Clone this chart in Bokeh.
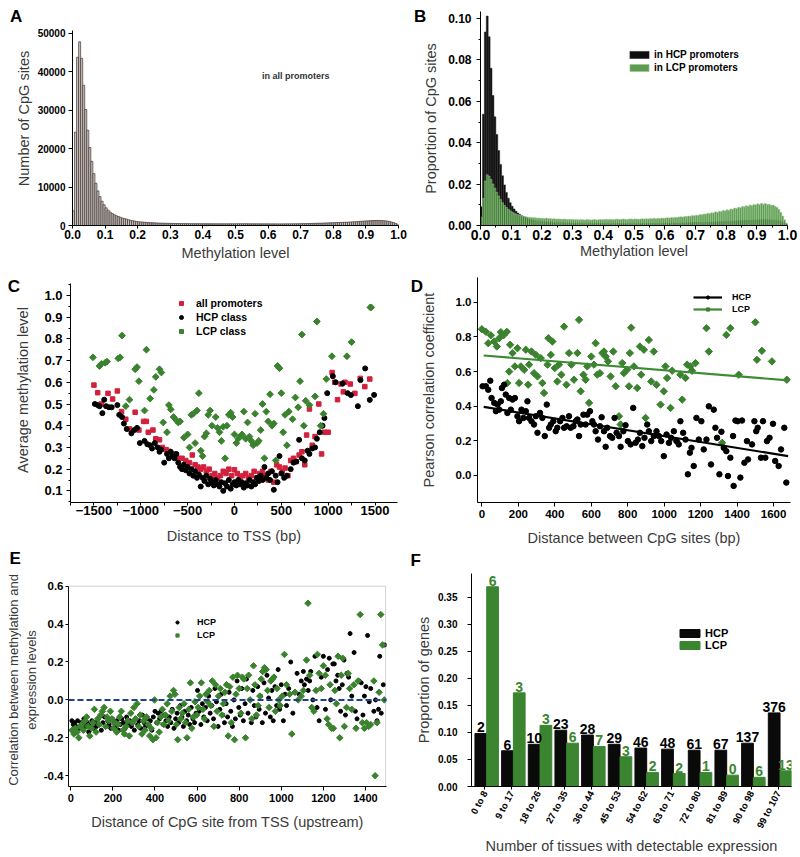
import math
from bokeh.plotting import figure
from bokeh.layouts import column, row
from bokeh.models import (ColumnDataSource, Legend, LegendItem, Label, LabelSet, Span, Title, BoxAnnotation,
                          FixedTicker, PrintfTickFormatter, Range1d, FactorRange)
from bokeh.transform import dodge
from bokeh.core.properties import value
from bokeh.embed import file_html
from bokeh.resources import INLINE

FONT = "Liberation Sans"
TITLE_COLOR = "#3a3a3a"
GREEN = "#3b822f"
RED = "#d2203c"

# ---------------- DATA ----------------
# Panel A: histogram of methylation level, all promoters (bin width 0.00625)
a_bin_width = 0.00625
a_counts = [
    3800, 24300, 43800, 47800, 43500, 36500, 30200, 24800, 20300, 16700, 13500, 11000, 9000, 7500, 6300, 5400,
    4600, 4000, 3500, 3100, 2800, 2550, 2350, 2150, 1950, 1800, 1650, 1500, 1350, 1250, 1150, 1050,
    980, 930, 880, 840, 800, 760, 730, 700, 680, 650, 630, 610, 590, 580, 560, 550,
    540, 530, 520, 515, 505, 500, 495, 490, 485, 480, 480, 475, 470, 470, 465, 460,
    460, 455, 455, 450, 450, 445, 450, 445, 440, 445, 440, 440, 445, 450, 445, 450,
    455, 460, 455, 460, 465, 460, 455, 450, 445, 440, 440, 435, 430, 430, 425, 430,
    425, 420, 425, 420, 415, 420, 420, 425, 430, 430, 435, 440, 445, 450, 460, 470,
    480, 490, 500, 510, 520, 535, 550, 565, 580, 600, 620, 640, 660, 680, 700, 720,
    740, 760, 780, 800, 820, 840, 860, 890, 920, 950, 980, 1010, 1050, 1090, 1130, 1170,
    1200, 1230, 1260, 1280, 1300, 1310, 1300, 1290, 1260, 1220, 1150, 1050, 920, 760, 560, 350]
a_xticks = [0.0, 0.1, 0.2, 0.3, 0.4, 0.5, 0.6, 0.7, 0.8, 0.9, 1.0]
a_yticks = [0, 10000, 20000, 30000, 40000, 50000]

# Panel B: proportion of CpG sites in HCP / LCP promoters
b_bin_width = 0.00625
b_hcp = [
    0.0090, 0.0538, 0.0935, 0.1012, 0.0912, 0.0760, 0.0628, 0.0525, 0.0440, 0.0362, 0.0295, 0.0240, 0.0196, 0.0160, 0.0132, 0.0110,
    0.0093, 0.0080, 0.0069, 0.0060, 0.0053, 0.0047, 0.0042, 0.0038, 0.0034, 0.0031, 0.0028, 0.0026, 0.0024, 0.0022, 0.0021, 0.0020,
    0.0019, 0.0018, 0.0017, 0.0017, 0.0016, 0.0015, 0.0015, 0.0014, 0.0014, 0.0013, 0.0013, 0.0013, 0.0012, 0.0012, 0.0012, 0.0011,
    0.0011, 0.0011, 0.0011, 0.0010, 0.0011, 0.0010, 0.0010, 0.0010, 0.0011, 0.0010, 0.0010, 0.0010, 0.0010, 0.0009, 0.0010, 0.0010,
    0.0010, 0.0009, 0.0010, 0.0010, 0.0009, 0.0010, 0.0009, 0.0010, 0.0009, 0.0009, 0.0010, 0.0009, 0.0010, 0.0010, 0.0009, 0.0010,
    0.0010, 0.0010, 0.0009, 0.0010, 0.0010, 0.0010, 0.0010, 0.0011, 0.0010, 0.0010, 0.0011, 0.0010, 0.0011, 0.0011, 0.0010, 0.0011,
    0.0011, 0.0011, 0.0011, 0.0012, 0.0011, 0.0012, 0.0012, 0.0012, 0.0012, 0.0013, 0.0012, 0.0013, 0.0013, 0.0013, 0.0014, 0.0014,
    0.0014, 0.0014, 0.0015, 0.0015, 0.0015, 0.0016, 0.0016, 0.0016, 0.0017, 0.0017, 0.0017, 0.0018, 0.0018, 0.0019, 0.0019, 0.0020,
    0.0020, 0.0021, 0.0021, 0.0022, 0.0022, 0.0023, 0.0023, 0.0024, 0.0024, 0.0025, 0.0025, 0.0026, 0.0026, 0.0026, 0.0027, 0.0027,
    0.0027, 0.0028, 0.0028, 0.0028, 0.0029, 0.0028, 0.0028, 0.0028, 0.0027, 0.0026, 0.0025, 0.0023, 0.0020, 0.0016, 0.0011, 0.0006]
b_lcp = [
    0.0040, 0.0130, 0.0215, 0.0245, 0.0238, 0.0222, 0.0200, 0.0180, 0.0160, 0.0142, 0.0125, 0.0110, 0.0097, 0.0087, 0.0078, 0.0071,
    0.0065, 0.0060, 0.0056, 0.0052, 0.0049, 0.0047, 0.0045, 0.0043, 0.0041, 0.0040, 0.0039, 0.0038, 0.0037, 0.0036, 0.0036, 0.0035,
    0.0035, 0.0034, 0.0036, 0.0033, 0.0034, 0.0032, 0.0033, 0.0031, 0.0032, 0.0031, 0.0030, 0.0031, 0.0030, 0.0029, 0.0030, 0.0029,
    0.0029, 0.0028, 0.0029, 0.0027, 0.0029, 0.0028, 0.0027, 0.0029, 0.0028, 0.0027, 0.0028, 0.0029, 0.0027, 0.0028, 0.0029, 0.0028,
    0.0029, 0.0030, 0.0028, 0.0030, 0.0029, 0.0028, 0.0030, 0.0031, 0.0029, 0.0030, 0.0031, 0.0030, 0.0029, 0.0031, 0.0032, 0.0030,
    0.0032, 0.0031, 0.0030, 0.0032, 0.0033, 0.0031, 0.0033, 0.0032, 0.0034, 0.0033, 0.0035, 0.0033, 0.0035, 0.0034, 0.0036, 0.0035,
    0.0036, 0.0038, 0.0036, 0.0039, 0.0038, 0.0040, 0.0039, 0.0041, 0.0042, 0.0041, 0.0044, 0.0043, 0.0046, 0.0045, 0.0048, 0.0047,
    0.0050, 0.0049, 0.0053, 0.0052, 0.0056, 0.0055, 0.0059, 0.0058, 0.0062, 0.0061, 0.0066, 0.0064, 0.0069, 0.0068, 0.0073, 0.0071,
    0.0076, 0.0074, 0.0080, 0.0078, 0.0084, 0.0082, 0.0088, 0.0086, 0.0092, 0.0090, 0.0096, 0.0093, 0.0099, 0.0097, 0.0102, 0.0100,
    0.0105, 0.0102, 0.0107, 0.0103, 0.0106, 0.0101, 0.0103, 0.0098, 0.0099, 0.0093, 0.0088, 0.0078, 0.0064, 0.0046, 0.0028, 0.0012]
b_yticks = [0.0, 0.02, 0.04, 0.06, 0.08, 0.10]
b_yminor = [0.01, 0.03, 0.05, 0.07, 0.09]
b_xminor = [0.05, 0.15, 0.25, 0.35, 0.45, 0.55, 0.65, 0.75, 0.85, 0.95]

# Panel C: average methylation level vs distance to TSS
c_all = [(-1500, 0.587), (-1460, 0.552), (-1420, 0.50), (-1350, 0.549), (-1300, 0.523), (-1250, 0.560),
         (-1205, 0.465), (-1160, 0.43), (-1120, 0.385), (-1060, 0.462), (-1020, 0.38), (-970, 0.42),
         (-940, 0.42), (-920, 0.37), (-870, 0.38), (-840, 0.34), (-800, 0.335), (-770, 0.30), (-730, 0.29),
         (-700, 0.282), (-660, 0.27), (-630, 0.266), (-600, 0.25), (-560, 0.25), (-520, 0.24), (-480, 0.23),
         (-450, 0.265), (-420, 0.22), (-390, 0.21), (-360, 0.20), (-330, 0.21), (-300, 0.19), (-270, 0.20),
         (-240, 0.17), (-210, 0.18), (-180, 0.16), (-150, 0.17), (-120, 0.19), (-90, 0.18), (-60, 0.20),
         (-30, 0.17), (0, 0.197), (30, 0.18), (60, 0.165), (90, 0.17), (120, 0.18), (150, 0.16), (180, 0.17),
         (210, 0.19), (240, 0.16), (270, 0.18), (300, 0.19), (330, 0.17), (360, 0.15), (390, 0.19), (420, 0.14),
         (450, 0.22), (480, 0.21), (510, 0.19), (540, 0.205), (570, 0.17), (600, 0.24), (630, 0.25), (660, 0.235),
         (690, 0.265), (720, 0.28), (750, 0.22), (770, 0.357), (800, 0.477), (830, 0.31), (860, 0.35), (900, 0.50),
         (930, 0.27), (960, 0.37), (1000, 0.37), (1042, 0.645), (1070, 0.60), (1100, 0.52), (1138, 0.592),
         (1162, 0.556), (1180, 0.60), (1236, 0.592), (1285, 0.549), (1342, 0.618), (1391, 0.58), (1444, 0.615)]
c_hcp = [(-1490, 0.50), (-1460, 0.495), (-1440, 0.49), (-1410, 0.458), (-1390, 0.52), (-1370, 0.49), (-1340, 0.485),
         (-1310, 0.485), (-1250, 0.495), (-1230, 0.45), (-1200, 0.44), (-1180, 0.41), (-1150, 0.385), (-1100, 0.365),
         (-1070, 0.38), (-1040, 0.39), (-1010, 0.32), (-960, 0.33), (-930, 0.315), (-900, 0.31), (-880, 0.295),
         (-850, 0.32), (-820, 0.30), (-800, 0.28), (-780, 0.29), (-750, 0.23), (-720, 0.27), (-700, 0.25), (-680, 0.28),
         (-660, 0.26), (-640, 0.25), (-620, 0.27), (-600, 0.23), (-580, 0.21), (-560, 0.20), (-540, 0.22), (-520, 0.195),
         (-500, 0.21), (-480, 0.18), (-460, 0.20), (-440, 0.17), (-420, 0.19), (-400, 0.16), (-380, 0.175), (-360, 0.12),
         (-340, 0.16), (-320, 0.145), (-300, 0.17), (-280, 0.13), (-260, 0.155), (-240, 0.14), (-220, 0.125), (-200, 0.15),
         (-180, 0.13), (-160, 0.12), (-140, 0.14), (-120, 0.10), (-100, 0.135), (-80, 0.12), (-60, 0.15), (-40, 0.11),
         (-20, 0.13), (0, 0.14), (20, 0.125), (40, 0.15), (60, 0.13), (80, 0.14), (100, 0.115), (120, 0.135), (140, 0.125),
         (160, 0.15), (180, 0.12), (200, 0.14), (220, 0.13), (240, 0.16), (260, 0.145), (280, 0.17), (300, 0.15), (320, 0.21),
         (340, 0.16), (360, 0.18), (380, 0.15), (400, 0.19), (420, 0.105), (440, 0.17), (460, 0.14), (480, 0.26), (500, 0.18),
         (530, 0.16), (560, 0.17), (600, 0.20), (630, 0.23), (660, 0.235), (690, 0.335), (720, 0.25), (750, 0.24),
         (780, 0.285), (800, 0.27), (830, 0.295), (860, 0.30), (880, 0.34), (910, 0.37), (940, 0.40), (960, 0.435),
         (990, 0.55), (1050, 0.628), (1080, 0.60), (1155, 0.595), (1208, 0.55), (1243, 0.541), (1317, 0.49), (1345, 0.61),
         (1395, 0.664), (1444, 0.519), (1490, 0.542)]
c_lcp = [(-1510, 0.715), (-1440, 0.675), (-1420, 0.685), (-1380, 0.69), (-1360, 0.695), (-1240, 0.71), (-1220, 0.715),
         (-1200, 0.815), (-1160, 0.49), (-1120, 0.52), (-1060, 0.66), (-1040, 0.67), (-1020, 0.605), (-960, 0.47),
         (-940, 0.75), (-900, 0.525), (-860, 0.565), (-840, 0.625), (-800, 0.66), (-780, 0.645), (-760, 0.415),
         (-720, 0.37), (-700, 0.495), (-680, 0.475), (-650, 0.44), (-620, 0.425), (-600, 0.415), (-580, 0.42),
         (-540, 0.345), (-500, 0.36), (-480, 0.30), (-460, 0.45), (-440, 0.455), (-420, 0.32), (-400, 0.47), (-380, 0.55),
         (-360, 0.285), (-340, 0.26), (-320, 0.35), (-300, 0.365), (-280, 0.45), (-260, 0.47), (-240, 0.40), (-200, 0.44),
         (-180, 0.39), (-160, 0.37), (-140, 0.33), (-120, 0.395), (-100, 0.25), (-80, 0.40), (-60, 0.45), (-40, 0.46),
         (-20, 0.44), (0, 0.36), (20, 0.32), (40, 0.34), (60, 0.35), (80, 0.36), (100, 0.465), (120, 0.34), (140, 0.415),
         (160, 0.35), (180, 0.33), (200, 0.31), (220, 0.455), (240, 0.32), (260, 0.33), (280, 0.38), (300, 0.50),
         (320, 0.25), (340, 0.465), (360, 0.42), (380, 0.545), (400, 0.40), (420, 0.41), (440, 0.24), (460, 0.675),
         (480, 0.665), (500, 0.55), (520, 0.37), (540, 0.45), (560, 0.31), (580, 0.465), (620, 0.43), (650, 0.53),
         (680, 0.485), (700, 0.605), (720, 0.82), (740, 0.40), (760, 0.515), (800, 0.495), (860, 0.535), (880, 0.88),
         (920, 0.40), (950, 0.455), (980, 0.615), (1040, 0.72), (1200, 0.72), (1250, 0.785), (1450, 0.945), (1460, 0.945)]
c_xticks = [-1500, -1000, -500, 0, 500, 1000, 1500]
c_xminor = [-1750, -1250, -750, -250, 250, 750, 1250]
c_yticks = [0.1, 0.2, 0.3, 0.4, 0.5, 0.6, 0.7, 0.8, 0.9, 1.0]
c_yminor = [0.05, 0.15, 0.25, 0.35, 0.45, 0.55, 0.65, 0.75, 0.85, 0.95, 1.05]

# Panel D: Pearson correlation vs distance between CpG sites
d_lcp = [(0, 0.845), (22, 0.83), (35, 0.764), (49, 0.81), (68, 0.774), (82, 0.745), (95, 0.793), (104, 0.828),
         (119, 0.81), (137, 0.83), (140, 0.534), (150, 0.60), (155, 0.755), (168, 0.707), (181, 0.63), (195, 0.735),
         (204, 0.534), (214, 0.63), (232, 0.61), (241, 0.726), (254, 0.524), (259, 0.64), (272, 0.716), (286, 0.591),
         (296, 0.697), (305, 0.572), (323, 0.678), (332, 0.534), (341, 0.476), (360, 0.64), (365, 0.793), (378, 0.697),
         (387, 0.774), (400, 0.62), (414, 0.543), (423, 0.64), (436, 0.582), (451, 0.86), (464, 0.524), (478, 0.707),
         (491, 0.64), (505, 0.553), (524, 0.707), (533, 0.899), (542, 0.486), (557, 0.582), (569, 0.553), (578, 0.63),
         (588, 0.419), (600, 0.687), (615, 0.64), (624, 0.764), (633, 0.582), (648, 0.591), (661, 0.707), (670, 0.716),
         (679, 0.687), (692, 0.659), (706, 0.572), (721, 0.716), (734, 0.515), (752, 0.342), (761, 0.294), (770, 0.649),
         (779, 0.591), (797, 0.611), (807, 0.515), (812, 0.707), (819, 0.854), (834, 0.63), (852, 0.505), (867, 0.745),
         (874, 0.582), (889, 0.726), (898, 0.332), (916, 0.783), (929, 0.543), (943, 0.716), (958, 0.524), (980, 0.409),
         (998, 0.486), (1007, 0.63), (1016, 0.563), (1035, 0.39), (1044, 0.605), (1068, 0.198), (1089, 0.582),
         (1099, 0.438), (1117, 0.563), (1126, 0.64), (1144, 0.63), (1153, 0.605), (1172, 0.649), (1232, 0.851),
         (1245, 0.716), (1318, 0.188), (1341, 0.812), (1363, 0.851), (1409, 0.582), (1500, 0.885), (1509, 0.668),
         (1536, 0.72), (1591, 0.659), (1673, 0.553)]
d_hcp = [(4, 0.515), (22, 0.515), (35, 0.495), (46, 0.547), (53, 0.447), (68, 0.419), (77, 0.371), (86, 0.409),
         (95, 0.38), (104, 0.428), (110, 0.505), (122, 0.524), (131, 0.467), (140, 0.361), (150, 0.447), (159, 0.38),
         (168, 0.438), (181, 0.447), (195, 0.342), (204, 0.313), (217, 0.38), (228, 0.332), (241, 0.371), (250, 0.428),
         (259, 0.332), (272, 0.313), (286, 0.294), (296, 0.342), (305, 0.246), (319, 0.361), (332, 0.332), (345, 0.227),
         (356, 0.409), (369, 0.275), (378, 0.294), (392, 0.313), (405, 0.255), (414, 0.275), (429, 0.313), (442, 0.332),
         (451, 0.275), (465, 0.284), (478, 0.342), (487, 0.275), (502, 0.284), (515, 0.313), (524, 0.323), (533, 0.227),
         (542, 0.294), (557, 0.351), (569, 0.294), (578, 0.351), (593, 0.371), (606, 0.313), (615, 0.294), (624, 0.255),
         (637, 0.207), (648, 0.284), (657, 0.336), (670, 0.255), (679, 0.165), (688, 0.275), (703, 0.227), (715, 0.217),
         (728, 0.332), (739, 0.246), (752, 0.227), (761, 0.165), (776, 0.255), (788, 0.29), (801, 0.198), (816, 0.179),
         (830, 0.39), (843, 0.188), (856, 0.207), (867, 0.246), (880, 0.169), (892, 0.217), (907, 0.294), (916, 0.255),
         (929, 0.198), (943, 0.227), (958, 0.255), (971, 0.227), (984, 0.198), (998, 0.111), (1013, 0.236), (1026, 0.188),
         (1038, 0.217), (1053, 0.255), (1068, 0.198), (1080, 0.179), (1089, 0.313), (1104, 0.246), (1117, 0.207),
         (1130, 0.006), (1141, 0.131), (1150, 0.159), (1162, 0.054), (1177, 0.332), (1190, 0.207), (1204, 0.313),
         (1217, 0.15), (1232, 0.207), (1245, 0.399), (1257, 0.063), (1272, 0.38), (1281, 0.275), (1290, 0.217),
         (1303, 0.006), (1314, 0.252), (1327, 0.159), (1341, 0.140), (1350, -0.004), (1363, 0.102), (1378, 0.227),
         (1381, -0.061), (1391, 0.317), (1403, 0.313), (1418, -0.013), (1427, 0.317), (1440, 0.073), (1454, 0.198),
         (1460, 0.092), (1482, 0.179), (1495, 0.313), (1505, 0.255), (1513, 0.275), (1531, 0.102), (1542, 0.313),
         (1555, 0.102), (1564, 0.198), (1578, 0.217), (1597, 0.298), (1609, 0.083), (1628, 0.054), (1641, 0.15),
         (1659, 0.275), (1670, -0.042)]
d_hcp_fit_x = [10, 1680]
d_hcp_fit_y = [0.396, 0.111]
d_lcp_fit_x = [10, 1680]
d_lcp_fit_y = [0.693, 0.549]
d_xticks = [0, 200, 400, 600, 800, 1000, 1200, 1400, 1600]
d_yticks = [0.0, 0.2, 0.4, 0.6, 0.8, 1.0]

# Panel E: correlation between methylation and expression vs distance upstream of TSS
e_hcp = [(5, -0.11), (12, -0.13), (18, -0.12), (25, -0.14), (32, -0.11), (40, -0.15), (48, -0.12), (55, -0.13),
         (62, -0.10), (70, -0.14), (78, -0.12), (85, -0.17), (92, -0.13), (100, -0.11), (108, -0.15), (115, -0.12),
         (122, -0.14), (130, -0.10), (138, -0.13), (145, -0.16), (152, -0.12), (160, -0.09), (168, -0.14), (175, -0.11),
         (182, -0.13), (190, -0.15), (198, -0.10), (205, -0.12), (212, -0.14), (220, -0.11), (228, -0.16), (235, -0.13),
         (242, -0.10), (250, -0.12), (258, -0.15), (265, -0.09), (272, -0.13), (280, -0.11), (288, -0.14), (295, -0.12),
         (302, -0.16), (310, -0.10), (318, -0.13), (325, -0.11), (332, -0.15), (340, -0.08), (348, -0.12), (355, -0.14),
         (362, -0.10), (370, -0.13), (378, -0.11), (385, -0.16), (392, -0.09), (400, -0.06), (408, -0.12), (415, -0.07),
         (422, -0.10), (430, -0.06), (438, -0.13), (445, -0.08), (452, -0.11), (460, -0.14), (468, -0.09), (475, -0.12),
         (482, -0.05), (490, -0.15), (498, -0.10), (505, -0.07), (512, -0.12), (520, -0.03), (528, -0.09), (535, -0.14),
         (542, -0.06), (550, -0.11), (558, -0.08), (565, -0.13), (572, -0.04), (580, -0.10), (588, -0.12), (595, -0.07),
         (602, 0.05), (610, -0.06), (618, -0.13), (625, -0.02), (632, -0.09), (640, -0.04), (648, -0.11), (655, 0.02),
         (662, -0.07), (670, -0.03), (678, -0.10), (685, 0.06), (692, -0.01), (700, -0.14), (708, -0.05), (715, 0.03),
         (722, -0.08), (730, -0.12), (738, -0.02), (745, -0.09), (752, 0.04), (760, -0.06), (768, -0.14), (775, 0.00),
         (782, -0.10), (790, 0.10), (798, -0.04), (805, -0.08), (812, 0.06), (820, -0.11), (828, -0.02), (835, 0.11),
         (842, -0.07), (850, 0.00), (858, -0.12), (865, 0.05), (872, -0.03), (880, -0.09), (888, 0.07), (895, -0.05),
         (902, 0.02), (910, -0.12), (918, 0.09), (925, -0.07), (932, 0.13), (940, 0.01), (948, -0.09), (955, 0.05),
         (962, -0.11), (970, 0.07), (978, -0.03), (985, 0.16), (992, -0.05), (1000, 0.08), (1010, -0.11), (1018, 0.03),
         (1025, -0.03), (1035, 0.06), (1045, 0.20), (1055, -0.07), (1065, 0.04), (1075, 0.14), (1085, 0.03), (1095, 0.10),
         (1105, 0.15), (1110, 0.08), (1120, 0.11), (1128, 0.05), (1135, 0.10), (1140, 0.15), (1150, 0.00), (1160, 0.23),
         (1170, -0.04), (1180, -0.11), (1190, 0.12), (1200, 0.23), (1210, -0.05), (1220, 0.16), (1228, 0.22), (1235, 0.00),
         (1245, 0.19), (1252, 0.19), (1260, 0.10), (1268, 0.13), (1275, 0.06), (1282, -0.06), (1290, 0.08), (1298, 0.21),
         (1305, -0.08), (1312, 0.14), (1320, 0.12), (1327, 0.35), (1335, 0.02), (1346, 0.25), (1352, -0.06), (1360, -0.10),
         (1370, 0.10), (1380, 0.09), (1388, -0.08), (1395, 0.02), (1402, 0.07), (1410, 0.34), (1418, -0.01), (1425, 0.06),
         (1440, -0.06), (1448, 0.00), (1455, -0.11), (1462, -0.05), (1468, 0.23), (1475, -0.07), (1485, 0.08), (1492, 0.29)]
e_lcp = [(5, -0.16), (15, -0.18), (22, -0.15), (30, -0.17), (38, -0.20), (45, -0.14), (52, -0.13), (60, -0.16),
         (68, -0.11), (75, -0.09), (82, -0.14), (90, -0.19), (98, -0.15), (105, -0.12), (112, -0.05), (120, -0.17),
         (128, -0.10), (135, -0.13), (142, -0.08), (150, -0.06), (158, -0.04), (165, -0.14), (172, -0.09), (180, -0.11),
         (188, -0.06), (195, -0.10), (202, -0.15), (210, -0.12), (218, -0.17), (225, -0.13), (232, -0.09), (240, -0.06),
         (248, -0.16), (255, -0.18), (262, -0.14), (270, -0.11), (278, -0.19), (285, -0.07), (292, -0.12), (300, -0.04),
         (308, -0.10), (315, -0.02), (322, -0.14), (330, -0.08), (338, -0.18), (345, -0.11), (352, -0.16), (360, -0.09),
         (368, -0.13), (375, -0.19), (382, -0.15), (390, -0.21), (398, 0.00), (405, -0.20), (412, -0.12), (420, -0.17),
         (428, -0.09), (435, -0.05), (442, -0.13), (450, -0.08), (458, -0.02), (465, -0.11), (472, 0.02), (480, -0.06),
         (488, 0.05), (495, 0.03), (502, -0.13), (508, -0.21), (515, -0.04), (522, -0.10), (530, -0.07), (538, -0.02),
         (545, -0.12), (552, -0.20), (560, -0.05), (568, 0.09), (575, -0.15), (582, -0.09), (590, -0.01), (598, -0.08),
         (605, -0.04), (612, 0.02), (620, 0.09), (628, -0.05), (635, -0.10), (642, 0.03), (650, -0.01), (658, 0.05),
         (665, -0.03), (672, 0.10), (680, -0.14), (688, 0.08), (695, -0.06), (702, 0.02), (710, 0.06), (718, -0.08),
         (725, -0.02), (732, 0.04), (740, 0.08), (748, -0.19), (755, 0.07), (762, -0.12), (770, 0.12), (778, -0.21),
         (785, 0.03), (792, 0.13), (800, 0.06), (808, -0.07), (815, 0.12), (822, 0.11), (830, -0.20), (838, 0.06),
         (845, 0.13), (852, 0.00), (860, -0.10), (868, 0.18), (875, 0.08), (882, -0.08), (890, -0.03), (898, 0.02),
         (905, 0.11), (912, 0.15), (920, 0.17), (928, 0.16), (935, 0.05), (942, -0.04), (950, 0.10), (958, 0.11),
         (965, 0.12), (972, -0.06), (980, 0.06), (988, 0.00), (995, -0.03), (1005, 0.02), (1015, 0.24), (1025, 0.08),
         (1040, 0.03), (1050, -0.18), (1065, 0.04), (1080, 0.00), (1095, 0.02), (1105, 0.05), (1120, 0.21), (1127, 0.51),
         (1135, 0.13), (1145, -0.04), (1155, -0.06), (1165, 0.05), (1172, 0.24), (1180, 0.14), (1190, 0.06), (1200, 0.18),
         (1210, 0.13), (1218, -0.10), (1225, -0.13), (1232, 0.08), (1240, -0.15), (1248, -0.15), (1255, 0.05),
         (1262, -0.02), (1270, 0.23), (1278, -0.20), (1285, 0.13), (1292, 0.22), (1300, -0.14), (1310, -0.04), (1318, 0.14),
         (1325, 0.06), (1335, -0.05), (1345, 0.08), (1355, -0.15), (1365, 0.10), (1375, 0.45), (1385, -0.12),
         (1395, -0.15), (1405, -0.12), (1415, -0.14), (1425, -0.13), (1440, 0.10), (1446, -0.40), (1455, -0.12),
         (1465, 0.04), (1473, 0.45), (1481, 0.29), (1490, 0.00)]
e_xticks = [0, 200, 400, 600, 800, 1000, 1200, 1400]
e_yticks = [-0.4, -0.2, 0.0, 0.2, 0.4, 0.6]

# Panel F: proportion of genes by number of tissues with detectable expression
f_cats = ["0 to 8", "9 to 17", "18 to 26", "27 to 35", "36 to 44", "45 to 53",
          "54 to 62", "63 to 71", "72 to 80", "81 to 89", "90 to 98", "99 to 107"]
f_hcp = [0.098, 0.066, 0.078, 0.104, 0.095, 0.078, 0.071, 0.069, 0.067, 0.067, 0.080, 0.136]
f_lcp = [0.369, 0.173, 0.113, 0.080, 0.074, 0.055, 0.026, 0.024, 0.026, 0.021, 0.017, 0.029]
f_hcp_n = ["2", "6", "10", "23", "28", "29", "46", "48", "61", "67", "137", "376"]
f_lcp_n = ["6", "3", "3", "6", "7", "3", "2", "2", "1", "0", "6", "13"]
f_yticks = [0.0, 0.05, 0.10, 0.15, 0.20, 0.25, 0.30, 0.35]


# ---------------- HELPERS ----------------
def make_fig(w, h, borders, xr, yr):
    l, r, t, b = borders
    p = figure(width=w, height=h, x_range=xr, y_range=yr, tools="", toolbar_location=None,
               output_backend="svg", min_border_left=l, min_border_right=r,
               min_border_top=t, min_border_bottom=b)
    p.title.visible = False
    p.xgrid.visible = False
    p.ygrid.visible = False
    p.outline_line_color = None
    p.background_fill_color = "white"
    p.border_fill_color = "white"
    return p


def style_axis(ax, label, tick_fs, title_fs="14.5px", tick_out=4, lab_off=3, title_off=6, minor_out=0):
    ax.axis_label = label
    ax.axis_line_color = "black"
    ax.axis_line_width = 1
    ax.major_tick_line_color = "black"
    ax.major_tick_in = 0
    ax.major_tick_out = tick_out
    if minor_out:
        ax.minor_tick_line_color = "black"
        ax.minor_tick_in = 0
        ax.minor_tick_out = minor_out
    else:
        ax.minor_tick_line_color = None
    ax.major_label_text_font = FONT
    ax.major_label_text_font_style = "bold"
    ax.major_label_text_font_size = tick_fs
    ax.major_label_text_color = "black"
    ax.major_label_standoff = lab_off
    ax.axis_label_text_font = FONT
    ax.axis_label_text_font_style = "normal"
    ax.axis_label_text_font_size = title_fs
    ax.axis_label_text_color = TITLE_COLOR
    ax.axis_label_standoff = title_off


def below_letter(p, text, offset, standoff):
    p.add_layout(Title(text=text, align="left", offset=offset, standoff=standoff, vertical_align="bottom",
                       text_font=FONT, text_font_style="bold", text_font_size="17px", text_color="black"),
                 "below")


def side_letter(p, text, x, y):
    p.add_layout(Label(x=x, y=y, text=text, text_font=FONT, text_font_style="bold",
                       text_font_size="17px", text_align="center", text_baseline="middle",
                       text_color="black"), "left")


def add_legend(p, items, loc, fs, gw, gh, standoff, spacing, lh):
    lg = Legend(items=items, location=loc, orientation="vertical",
                label_text_font=FONT, label_text_font_style="bold", label_text_font_size=fs,
                label_text_color="black", glyph_width=gw, glyph_height=gh,
                label_standoff=standoff, spacing=spacing, padding=0, margin=0,
                label_height=lh, border_line_color=None, background_fill_alpha=0)
    p.add_layout(lg)


def xs(pairs):
    return [q[0] for q in pairs]


def ys(pairs):
    return [q[1] for q in pairs]


# ---------------- PANEL A ----------------
# row 1 frames share top (11) and bottom (225)
pa = make_fig(408, 276, (68, 10, 11, 51), Range1d(0, 1.0), Range1d(0, 55700))
a_x = [(i + 0.5) * a_bin_width for i in range(len(a_counts))]
pa.vbar(x=a_x, top=a_counts, width=a_bin_width, bottom=0,
        fill_color="#cbc3bf", line_color="#3d3431", line_width=0.7)
style_axis(pa.xaxis[0], "Methylation level", "12px", tick_out=3, lab_off=1, title_off=3)
style_axis(pa.yaxis[0], "Number of CpG sites", "10px", tick_out=4, lab_off=3, title_off=3)
pa.xaxis.ticker = FixedTicker(ticks=a_xticks)
pa.xaxis.formatter = PrintfTickFormatter(format="%.1f")
pa.yaxis.ticker = FixedTicker(ticks=a_yticks)
pa.yaxis.bounds = (0, 50800)
pa.add_layout(Label(x=0.685, y=39000, text="in all promoters", text_font=FONT,
                    text_font_style="bold", text_font_size="9px", text_color="#333333",
                    text_align="center", text_baseline="middle"))
side_letter(pa, "A", -0.1727, 54400)

# ---------------- PANEL B ----------------
pb = make_fig(392, 276, (69, 13, 11, 51), Range1d(0, 1.0), Range1d(0, 0.1034))
b_xh = [(i + 0.5) * b_bin_width for i in range(len(b_hcp))]
b_xl = [(i + 0.5) * b_bin_width for i in range(len(b_lcp))]
rb_h = pb.vbar(x=b_xh, top=b_hcp, width=b_bin_width, bottom=0,
               fill_color="#0e0e0e", line_color="#2a2a2a", line_width=0.5)
rb_l = pb.vbar(x=b_xl, top=b_lcp, width=b_bin_width, bottom=0,
               fill_color="#3f8a33", fill_alpha=0.85, line_color="#a9cf9f", line_width=0.5)
style_axis(pb.xaxis[0], "Methylation level", "14px", tick_out=4, lab_off=0, title_off=0, minor_out=2)
style_axis(pb.yaxis[0], "Proportion of CpG sites", "12px", tick_out=4, lab_off=5, title_off=6, minor_out=2)
pb.xaxis.ticker = FixedTicker(ticks=a_xticks, minor_ticks=b_xminor)
pb.xaxis.formatter = PrintfTickFormatter(format="%.1f")
pb.yaxis.ticker = FixedTicker(ticks=b_yticks, minor_ticks=b_yminor)
pb.yaxis.formatter = PrintfTickFormatter(format="%.2f")
add_legend(pb, [LegendItem(label="in HCP promoters", renderers=[rb_h]),
                LegendItem(label="in LCP promoters", renderers=[rb_l])],
           (147, 152), "10px", 24, 9, 3, 2, 10)
side_letter(pb, "B", -0.197, 0.1010)

# ---------------- PANEL C ----------------
# row 2 frames share top (277) and bottom (503)
pc = make_fig(400, 294, (68, 3, 1, 67), Range1d(-1750, 1740), Range1d(0.0464, 1.0826))
rc_a = pc.scatter(xs(c_all), ys(c_all), marker="square", size=4.5, color=RED)
rc_h = pc.scatter(xs(c_hcp), ys(c_hcp), marker="circle", size=5, color="black")
rc_l = pc.scatter(xs(c_lcp), ys(c_lcp), marker="square", angle=math.pi / 4, size=4.8, color=GREEN)
style_axis(pc.xaxis[0], "Distance to TSS (bp)", "13px", tick_out=3, lab_off=0, title_off=10, minor_out=3)
style_axis(pc.yaxis[0], "Average methylation level", "13px", tick_out=4, lab_off=4, title_off=10, minor_out=2)
pc.xaxis.ticker = FixedTicker(ticks=c_xticks, minor_ticks=c_xminor)
pc.yaxis.ticker = FixedTicker(ticks=c_yticks, minor_ticks=c_yminor)
pc.yaxis.formatter = PrintfTickFormatter(format="%.1f")
pc.yaxis.bounds = (0.0464, 1.055)
add_legend(pc, [LegendItem(label="all promoters", renderers=[rc_a]),
                LegendItem(label="HCP class", renderers=[rc_h]),
                LegendItem(label="LCP class", renderers=[rc_l])],
           (104, 165), "10.5px", 14, 10, 8, 2, 11)
side_letter(pc, "C", -2355, 1.041)
below_letter(pc, "E", -61, 1)

# ---------------- PANEL D ----------------
pdd = make_fig(400, 294, (77, 10, 1, 67), Range1d(-24, 1693), Range1d(-0.157, 1.144))
rd_l = pdd.scatter(xs(d_lcp), ys(d_lcp), marker="square", angle=math.pi / 4, size=5.2, color=GREEN)
rd_h = pdd.scatter(xs(d_hcp), ys(d_hcp), marker="circle", size=5.5, color="black")
rd_lf = pdd.line(d_lcp_fit_x, d_lcp_fit_y, line_color="#3c8a32", line_width=2.2)
rd_hf = pdd.line(d_hcp_fit_x, d_hcp_fit_y, line_color="black", line_width=2.2)
style_axis(pdd.xaxis[0], "Distance between CpG sites (bp)", "11.5px", tick_out=4, lab_off=3, title_off=9)
style_axis(pdd.yaxis[0], "Pearson correlation coefficient", "11.5px", tick_out=4, lab_off=2, title_off=16)
pdd.xaxis.ticker = FixedTicker(ticks=d_xticks)
pdd.yaxis.ticker = FixedTicker(ticks=d_yticks)
pdd.yaxis.formatter = PrintfTickFormatter(format="%.1f")
add_legend(pdd, [LegendItem(label="HCP", renderers=[rd_hf, rd_h]),
                 LegendItem(label="LCP", renderers=[rd_lf, rd_l])],
           (216, 188), "9px", 29, 8, 10, 2, 10)
side_letter(pdd, "D", -357, 1.092)
below_letter(pdd, "F", -67, 1)

# ---------------- PANEL E ----------------
# row 3 frames share top (573) and bottom (790)
pe = make_fig(400, 286, (68, 14, 3, 66), Range1d(-11, 1500), Range1d(-0.457, 0.667))
pe.add_layout(BoxAnnotation(left=-11, right=1496, bottom=-0.457, top=0.6, fill_color=None,
                            line_color="#666666", line_width=1))
pe.add_layout(Span(location=0, dimension="width", line_color="#1f3f8f", line_width=2, line_dash="6 3"))
re_h = pe.scatter(xs(e_hcp), ys(e_hcp), marker="circle", size=4, color="black")
re_l = pe.scatter(xs(e_lcp), ys(e_lcp), marker="square", angle=math.pi / 4, size=4.6, color=GREEN)
style_axis(pe.xaxis[0], "Distance of CpG site from TSS (upstream)", "11px", tick_out=4, lab_off=3, title_off=9)
style_axis(pe.yaxis[0], "Correlation between methylation and\nexpression levels", "11.5px",
           title_fs="13px", tick_out=3, lab_off=2, title_off=2)
pe.xaxis.ticker = FixedTicker(ticks=e_xticks)
pe.yaxis.ticker = FixedTicker(ticks=e_yticks)
pe.yaxis.formatter = PrintfTickFormatter(format="%.1f")
pe.yaxis.bounds = (-0.457, 0.6)
add_legend(pe, [LegendItem(label="HCP", renderers=[re_h]),
                LegendItem(label="LCP", renderers=[re_l])],
           (104, 146), "9px", 10, 8, 15, 3, 10)

# ---------------- PANEL F ----------------
f_src = ColumnDataSource(data=dict(cat=f_cats, hcp=f_hcp, lcp=f_lcp, hcp_n=f_hcp_n, lcp_n=f_lcp_n))
pf = make_fig(400, 286, (71, 9, 3, 66), FactorRange(factors=f_cats), Range1d(0, 0.3935))
rf_h = pf.vbar(x=dodge("cat", -0.15, range=pf.x_range), top="hcp", width=0.44, source=f_src,
               fill_color="#0a0a0a", line_color="#0a0a0a")
rf_l = pf.vbar(x=dodge("cat", 0.29, range=pf.x_range), top="lcp", width=0.44, source=f_src,
               fill_color="#3b8530", line_color="#3b8530")
pf.add_layout(LabelSet(x=dodge("cat", -0.15, range=pf.x_range), y="hcp", text="hcp_n", source=f_src,
                       text_align="center", text_baseline="bottom", y_offset=1,
                       text_font=value(FONT), text_font_style="bold", text_font_size="14px",
                       text_color="black"))
pf.add_layout(LabelSet(x=dodge("cat", 0.29, range=pf.x_range), y="lcp", text="lcp_n", source=f_src,
                       text_align="center", text_baseline="bottom", y_offset=1,
                       text_font=value(FONT), text_font_style="bold", text_font_size="14px",
                       text_color="#3b8530"))
style_axis(pf.xaxis[0], "Number of tissues with detectable expression", "9.5px", tick_out=3, lab_off=2, title_off=2)
style_axis(pf.yaxis[0], "Proportion of genes", "10px", tick_out=4, lab_off=10, title_off=3)
pf.xaxis.major_label_orientation = math.radians(62)
pf.yaxis.ticker = FixedTicker(ticks=f_yticks)
pf.yaxis.formatter = PrintfTickFormatter(format="%.2f")
add_legend(pf, [LegendItem(label="HCP", renderers=[rf_h]),
                LegendItem(label="LCP", renderers=[rf_l])],
           (206, 135), "11px", 25, 10, 3, 0, 10)

layout = column(row(pa, pb), row(pc, pdd), row(pe, pf))
open("out.html", "w").write(file_html(layout, INLINE, title="CpG methylation"))
